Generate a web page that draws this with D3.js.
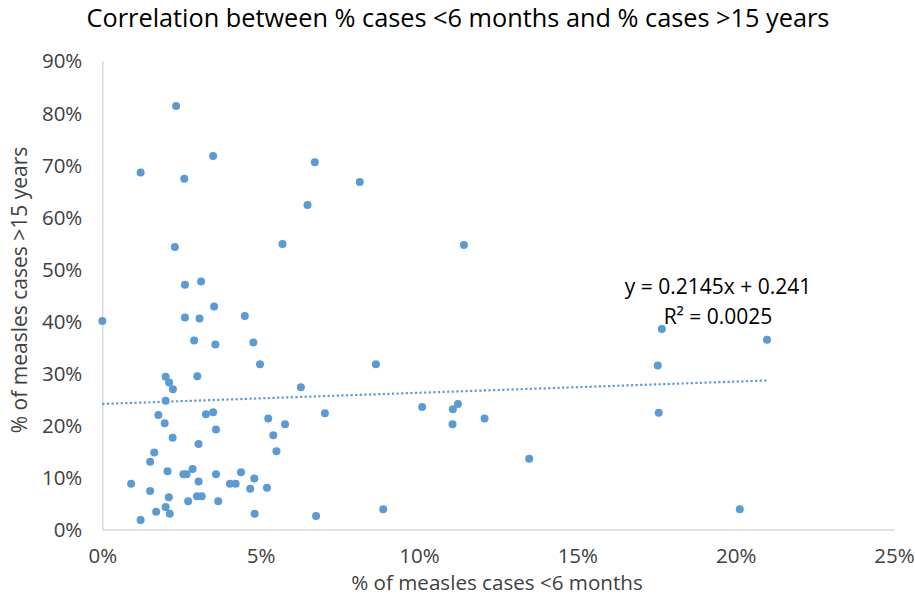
<!DOCTYPE html>
<html>
<head>
<meta charset="utf-8">
<script src="https://cdn.jsdelivr.net/npm/d3@7"></script>
<style>
  html, body { margin: 0; padding: 0; background: #fff; }
  svg { display: block; font-family: "Open Sans", sans-serif; }
</style>
</head>
<body>
<svg id="chart" width="915" height="605"></svg>
<script>
// % of measles cases <6 months (x) and % of cases >15 years (y), as fractions
const xValues = [
  0.0233, 0.0350, 0.0121, 0.0259, 0.0671, 0.0813, 0.0648,
  0.0229, 0.0569, 0.0261, 0.0312, 0.0353, 0.0000, 0.0261, 0.0307, 0.0450,
  0.0290, 0.0357, 0.0477, 0.0498, 0.0200, 0.0300, 0.1142, 0.0864,
  0.0211, 0.0223, 0.0200, 0.0177, 0.0327, 0.0350, 0.0197, 0.0524, 0.0577,
  0.0359, 0.0540, 0.0222, 0.0304, 0.0550, 0.0164, 0.0151, 0.0206, 0.0285,
  0.0256, 0.0266, 0.0359, 0.0438, 0.0304, 0.0480, 0.0403, 0.0421, 0.0091,
  0.0151, 0.0467, 0.0520, 0.0210, 0.0299, 0.0314, 0.0271, 0.0366, 0.0200,
  0.0170, 0.0213, 0.0481, 0.0121,
  0.0627, 0.0703, 0.1010, 0.1107, 0.1123, 0.1106, 0.0675, 0.0887,
  0.1207, 0.1348, 0.1767, 0.1754, 0.1757, 0.2099, 0.2013
];
const yValues = [
  0.813, 0.717, 0.685, 0.673, 0.705, 0.667, 0.623,
  0.542, 0.548, 0.470, 0.476, 0.428, 0.400, 0.407, 0.405, 0.410,
  0.363, 0.355, 0.359, 0.317, 0.293, 0.294, 0.546, 0.317,
  0.282, 0.269, 0.247, 0.220, 0.221, 0.225, 0.204, 0.213, 0.202,
  0.192, 0.181, 0.176, 0.164, 0.150, 0.148, 0.130, 0.112, 0.116,
  0.106, 0.106, 0.106, 0.110, 0.092, 0.098, 0.088, 0.088, 0.088,
  0.074, 0.078, 0.080, 0.062, 0.064, 0.064, 0.054, 0.054, 0.043,
  0.034, 0.030, 0.030, 0.018,
  0.273, 0.223, 0.235, 0.231, 0.241, 0.202, 0.026, 0.039,
  0.213, 0.136, 0.385, 0.315, 0.224, 0.364, 0.039
];
const xTicks = [0, 0.05, 0.10, 0.15, 0.20, 0.25];
const yTicks = [0, 0.1, 0.2, 0.3, 0.4, 0.5, 0.6, 0.7, 0.8, 0.9];
const trendSlope = [0.2145];
const trendIntercept = [0.241];
const rSquared = ["0.0025"];
const titleText = ["Correlation between % cases <6 months and % cases >15 years"];
const xTitle = ["% of measles cases <6 months"];
const yTitle = ["% of measles cases >15 years"];

const points = xValues.map((x, i) => ({ x, y: yValues[i] }));

const svg = d3.select("#chart");
const x = d3.scaleLinear().domain([0, 0.25]).range([102.3, 894]);
const y = d3.scaleLinear().domain([0, 0.9]).range([529.5, 60.6]);
const pct = d3.format(".0%");
const blue = "#5b9bd5";

// axes
const xAxis = svg.append("g").attr("transform", `translate(0,${y(0)})`)
  .call(d3.axisBottom(x).tickValues(xTicks).tickFormat(pct).tickSize(0).tickPadding(19));
const yAxis = svg.append("g").attr("transform", `translate(${x(0)},0)`)
  .call(d3.axisLeft(y).tickValues(yTicks).tickFormat(pct).tickSize(0).tickPadding(20));
[xAxis, yAxis].forEach(g => {
  g.select(".domain").attr("stroke", "#d9d9d9").attr("stroke-width", 1.5);
  g.selectAll("text").attr("font-family", "Open Sans").attr("font-size", 20.5).attr("fill", "#404040");
});
yAxis.selectAll("text").attr("dy", "0.36em");

// trendline
const xMax = d3.max(xValues);
const trendData = [0, xMax].map(v => ({ x: v, y: trendIntercept[0] + trendSlope[0] * v }));
svg.append("path")
  .datum(trendData)
  .attr("d", d3.line().x(d => x(d.x)).y(d => y(d.y)))
  .attr("fill", "none")
  .attr("stroke", blue)
  .attr("stroke-width", 2.2)
  .attr("stroke-dasharray", "2.2,2.4");

// points
svg.append("g").selectAll("circle").data(points).join("circle")
  .attr("cx", d => x(d.x))
  .attr("cy", d => y(d.y))
  .attr("r", 4)
  .attr("fill", blue);

// equation
svg.append("text").attr("x", 718).attr("y", 294).attr("text-anchor", "middle")
  .attr("font-size", 21).attr("fill", "#000")
  .text(`y = ${trendSlope[0]}x + ${trendIntercept[0]}`);
svg.append("text").attr("x", 718).attr("y", 324).attr("text-anchor", "middle")
  .attr("font-size", 21).attr("fill", "#000")
  .text(`R² = ${rSquared[0]}`);

// titles
svg.append("text").attr("x", 458).attr("y", 27).attr("text-anchor", "middle")
  .attr("font-size", 25.3).attr("fill", "#000").text(titleText[0]);
svg.append("text").attr("x", 497).attr("y", 590).attr("text-anchor", "middle")
  .attr("font-size", 20.6).attr("fill", "#404040").text(xTitle[0]);
svg.append("text").attr("transform", "translate(27,290) rotate(-90)").attr("text-anchor", "middle")
  .attr("font-size", 21).attr("fill", "#404040").text(yTitle[0]);
</script>
</body>
</html>
